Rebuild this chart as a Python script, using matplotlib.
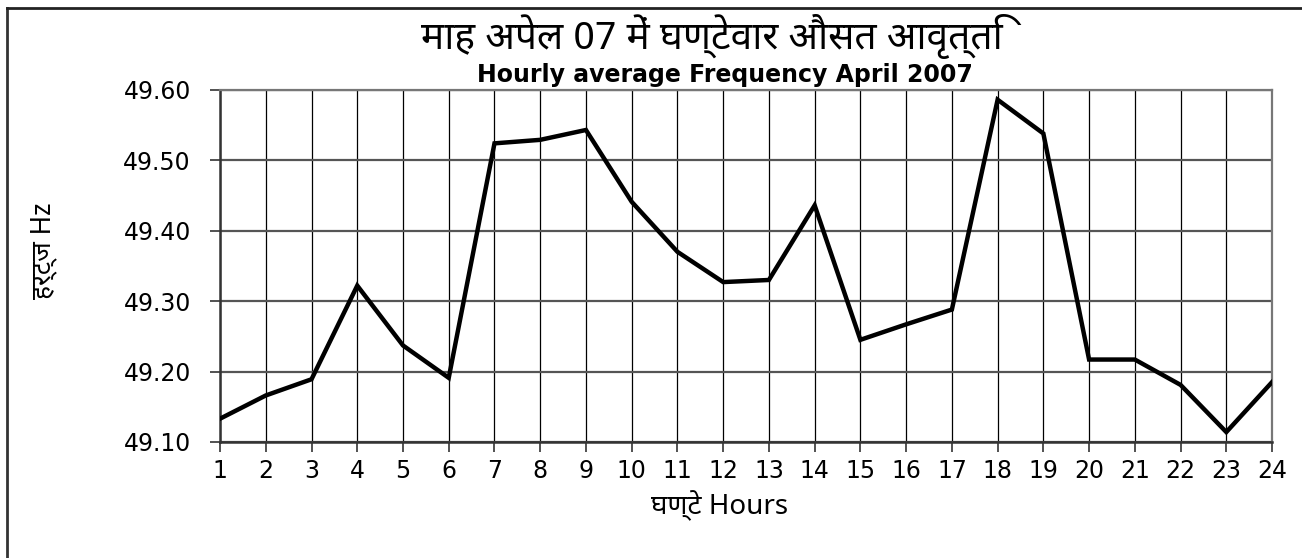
import matplotlib
matplotlib.use("Agg")
import matplotlib.pyplot as plt
from matplotlib.lines import Line2D

# hourly average frequency, April 2007
hours = list(range(1, 25))
freq = [49.133, 49.166, 49.189, 49.322, 49.237, 49.191, 49.524, 49.529,
        49.543, 49.441, 49.370, 49.327, 49.330, 49.436, 49.245, 49.267,
        49.288, 49.586, 49.538, 49.217, 49.217, 49.181, 49.114, 49.185]
yticks = [49.10, 49.20, 49.30, 49.40, 49.50, 49.60]

title_hi = "माह अपेल 07 में घण्टेवार औसत आवृत्ति"
title_en = "Hourly average Frequency April 2007"
xlabel = "घण्टे Hours"
ylabel = "हर्ट्ज Hz"

fams = ["Noto Sans Devanagari", "Lohit Devanagari", "DejaVu Sans"]
plt.rcParams["font.family"] = ["DejaVu Sans"]

fig = plt.figure(figsize=(13.02, 5.58), dpi=100)
ax = fig.add_axes([0.169, 0.208, 0.808, 0.631])

ax.plot(hours, freq, color="black", lw=3.2, solid_joinstyle="miter", zorder=3)

ax.set_xlim(1, 24)
ax.set_ylim(49.10, 49.60)
ax.set_xticks(hours)
ax.set_yticks(yticks)
ax.set_yticklabels([f"{v:.2f}" for v in yticks])
ax.tick_params(axis="both", direction="out", length=7, width=1.2,
               labelsize=17, pad=14, color="#333333")
ax.tick_params(axis="x", pad=5)

for h in hours:
    ax.axvline(h, color="black", lw=0.9, zorder=1)
for v in yticks:
    ax.axhline(v, color="#555555", lw=1.6, zorder=1)

for s in ["left", "bottom"]:
    ax.spines[s].set_color("#333333")
    ax.spines[s].set_linewidth(1.8)
for s in ["right", "top"]:
    ax.spines[s].set_color("#777777")
    ax.spines[s].set_linewidth(1.6)

fig.text(0.547, 0.934, title_hi, ha="center", va="center", fontsize=28,
         fontweight="bold", family=fams)
fig.text(0.557, 0.866, title_en, ha="center", va="center", fontsize=17,
         fontweight="bold")
fig.text(0.553, 0.094, xlabel, ha="center", va="center", fontsize=20,
         fontweight="bold", family=fams)
fig.text(0.033, 0.55, ylabel, ha="center", va="center", fontsize=19,
         fontweight="bold", rotation=90, family=fams)

# outer frame (only top and left edges are visible in the picture)
fig.add_artist(Line2D([0.0055, 0.0055], [0.0, 0.986], transform=fig.transFigure,
                      color="#333333", lw=2))
fig.add_artist(Line2D([0.0055, 1.0], [0.986, 0.986], transform=fig.transFigure,
                      color="#222222", lw=2))

fig.savefig("out.png", dpi=100)
